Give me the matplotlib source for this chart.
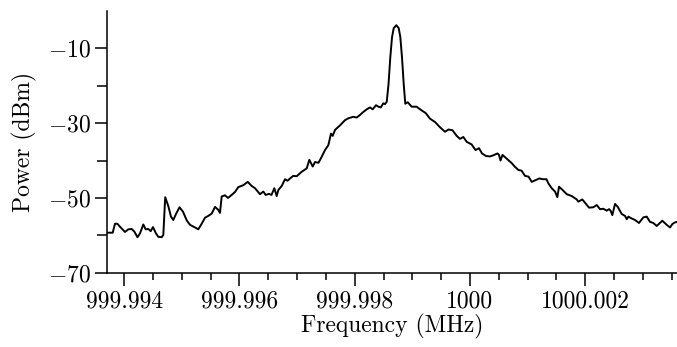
#!/usr/bin/env python3
"""Plot the measured power spectrum around the 1 GHz carrier."""

from __future__ import annotations

import matplotlib

matplotlib.use("Agg")

import matplotlib.pyplot as plt
import numpy as np
from matplotlib.ticker import FixedFormatter, FixedLocator


CARRIER_MHZ = 1000.0

# frequency offset from the carrier (Hz) and measured power (dBm)
OFFSET_HZ = [
    -6298, -6199, -6159, -6119, -6073, -5986, -5928, -5870, -5824, -5769,
    -5726, -5668, -5627, -5581, -5540, -5500, -5448, -5408, -5349, -5321,
    -5288, -5234, -5188, -5148, -5101, -5040, -4979, -4915, -4858, -4771,
    -4714, -4655, -4598, -4540, -4482, -4424, -4367, -4338, -4308, -4251,
    -4199, -4135, -4077, -4020, -3933, -3857, -3788, -3730, -3644, -3586,
    -3545, -3487, -3444, -3395, -3354, -3326, -3267, -3210, -3166, -3123,
    -3066, -3007, -2920, -2833, -2788, -2729, -2689, -2629, -2573, -2516,
    -2458, -2412, -2382, -2342, -2256, -2169, -2111, -2025, -1966, -1909,
    -1851, -1792, -1735, -1688, -1631, -1588, -1549, -1504, -1475, -1445,
    -1414, -1383, -1353, -1324, -1279, -1237, -1209, -1180, -1150, -1123,
    -1081, -1012, -928, -838, -769, -694, -607, -521, -434, -373,
    -304, -231, -174, -116, -57, 29, 95, 156, 208, 278,
    347, 404, 477, 503, 529, 564, 637, 724, 781, 838,
    894, 954, 1015, 1070, 1128, 1202, 1267, 1327, 1359, 1417,
    1475, 1515, 1544, 1608, 1678, 1765, 1851, 1879, 1948, 1995,
    2065, 2139, 2198, 2256, 2313, 2372, 2412, 2438, 2469, 2516,
    2563, 2632, 2689, 2719, 2747, 2805, 2863, 2932, 3007, 3066,
    3123, 3180, 3239, 3336, 3413, 3470, 3510, 3548, 3591,
]
POWER_DBM = [
    -59.3, -59.3, -56.9, -56.9, -57.7, -59.1, -58.4, -58.3, -59.0, -60.5,
    -59.5, -57.1, -58.4, -58.3, -58.9, -57.8, -59.5, -60.4, -60.5, -59.9,
    -49.8, -52.2, -55.0, -55.9, -54.3, -52.5, -53.7, -56.0, -57.2, -57.9,
    -58.4, -56.9, -55.3, -54.8, -54.2, -52.4, -53.2, -54.0, -49.6, -49.3,
    -50.0, -49.2, -48.4, -47.1, -46.6, -45.7, -46.8, -47.4, -49.0, -48.3,
    -49.2, -48.9, -49.2, -47.4, -49.5, -47.9, -46.8, -45.0, -45.4, -44.8,
    -44.1, -44.2, -43.0, -42.1, -39.8, -41.6, -40.4, -40.6, -39.0, -37.2,
    -35.9, -32.8, -33.4, -31.8, -30.6, -29.2, -28.7, -28.3, -28.5, -27.8,
    -27.0, -26.3, -25.8, -26.3, -25.2, -25.6, -25.8, -24.7, -24.9, -24.3,
    -19.6, -12.4, -7.0, -4.6, -3.8, -4.6, -7.0, -12.4, -19.6, -24.8,
    -24.4, -25.6, -25.6, -26.6, -27.3, -28.8, -29.7, -31.1, -32.3, -31.7,
    -31.9, -33.4, -34.2, -33.7, -35.0, -35.7, -37.2, -36.7, -38.1, -38.8,
    -38.9, -38.6, -38.1, -38.5, -40.0, -38.5, -39.5, -40.7, -41.7, -42.5,
    -42.7, -44.1, -44.3, -45.7, -45.3, -44.8, -45.0, -45.0, -46.1, -47.4,
    -48.3, -49.8, -47.0, -47.9, -49.0, -49.5, -50.4, -51.0, -50.4, -51.3,
    -52.6, -52.5, -51.9, -53.0, -52.9, -53.4, -53.0, -53.4, -54.6, -51.6,
    -52.4, -54.3, -54.8, -55.7, -55.0, -55.5, -55.9, -56.7, -55.2, -55.0,
    -56.4, -56.7, -57.5, -56.1, -57.2, -57.9, -57.0, -56.6, -56.4,
]

X_MAJOR = [999.994, 999.996, 999.998, 1000.0, 1000.002]
X_LABELS = ["999.994", "999.996", "999.998", "1000", "1000.002"]
X_MINOR = [999.9935, 999.9945, 999.995, 999.9955, 999.9965, 999.997,
           999.9975, 999.9985, 999.999, 999.9995, 1000.0005, 1000.001,
           1000.0015, 1000.0025, 1000.003, 1000.0035]
Y_MAJOR = [-70, -50, -30, -10]
Y_MINOR = [-60, -40, -20]


def main() -> None:
    plt.rcParams.update({
        "font.family": "serif",
        "font.serif": ["cmr10"],
        "mathtext.fontset": "cm",
        "axes.unicode_minus": False,
        "font.size": 17,
    })

    freq = CARRIER_MHZ + np.asarray(OFFSET_HZ, dtype=float) / 1e6
    power = np.asarray(POWER_DBM, dtype=float)

    fig = plt.figure(figsize=(6.77, 3.47), dpi=100)
    ax = fig.add_axes([107 / 677, 74.3 / 347, 570 / 677, 261.7 / 347])
    ax.plot(freq, power, color="black", linewidth=1.4)

    ax.set_xlim(999.993702, 1000.003591)
    ax.set_ylim(-70, 0)

    ax.xaxis.set_major_locator(FixedLocator(X_MAJOR))
    ax.xaxis.set_major_formatter(FixedFormatter(X_LABELS))
    ax.xaxis.set_minor_locator(FixedLocator(X_MINOR))
    ax.yaxis.set_major_locator(FixedLocator(Y_MAJOR))
    ax.yaxis.set_major_formatter(FixedFormatter([f"${v}$" for v in Y_MAJOR]))
    ax.yaxis.set_minor_locator(FixedLocator(Y_MINOR))

    for side in ("top", "right"):
        ax.spines[side].set_visible(False)
    for side in ("left", "bottom"):
        ax.spines[side].set_linewidth(1.1)

    ax.tick_params(axis="x", which="major", direction="out", length=9, width=1.1, pad=4)
    ax.tick_params(axis="x", which="minor", direction="out", length=4.7, width=1.1)
    ax.tick_params(axis="y", which="major", direction="out", length=8.5, width=1.1, pad=3)
    ax.tick_params(axis="y", which="minor", direction="out", length=7, width=1.1)

    ax.set_xlabel("Frequency (MHz)", labelpad=1)
    ax.set_ylabel("Power (dBm)", labelpad=8)

    fig.savefig("out.png", dpi=100)
    plt.close(fig)


if __name__ == "__main__":
    main()
